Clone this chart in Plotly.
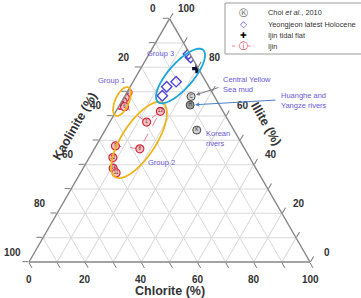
import numpy as np
import plotly.graph_objects as go

W, H = 361, 298
FONT = "Liberation Sans, Arial, sans-serif"

# ---------------- data (Illite %, Kaolinite %, Chlorite %) ----------------
ijin_labels = ["2", "7", "3", "4", "5", "6", "1", "13", "8", "9", "12", "14", "11"]
ijin_illite = [69.5, 67.5, 65.9, 64.5, 64.4, 63.8, 57.5, 61.9, 46.5, 47.7, 42.9, 38.5, 36.6]
ijin_kaolinite = [30.0, 32.0, 33.6, 35.5, 35.0, 34.1, 29.4, 22.3, 37.3, 45.4, 48.7, 50.8, 50.7]
ijin_chlorite = [0.5, 0.5, 0.5, 0.0, 0.5, 2.1, 13.1, 15.8, 16.2, 6.9, 8.4, 10.7, 12.7]

yj_illite = [85.5, 84.0, 74.1, 72.0, 68.3]
yj_kaolinite = [0.5, 0.5, 10.6, 15.0, 18.4]
yj_chlorite = [14.0, 15.5, 15.3, 13.0, 13.3]

tidal_illite = [79.5]
tidal_kaolinite = [0.5]
tidal_chlorite = [20.0]

choi_labels = ["C", "H", "K"]
choi_illite = [68.0, 64.5, 54.2]
choi_kaolinite = [8.3, 10.4, 13.2]
choi_chlorite = [23.7, 25.1, 32.6]

tick_values = list(range(0, 101, 10))
label_values = list(range(0, 101, 20))

# ---------------- geometry helpers ----------------
TRI_L, TRI_R, TRI_B = 29.0, 310.0, 262.0
TRI_W = TRI_R - TRI_L
TRI_H = TRI_W * np.sqrt(3) / 2


def px(x, y):
    return x / W, 1 - y / H


def tern_to_px(i, k, c):
    s = i + k + c
    x = TRI_L + TRI_W * (c / s + 0.5 * i / s)
    y = TRI_B - TRI_H * i / s
    return x, y


def ellipse_path(cx, cy, a, b, ang_deg):
    t = np.linspace(0, 2 * np.pi, 73)
    th = np.radians(ang_deg)
    xs = cx + a * np.cos(t) * np.cos(th) + b * np.sin(t) * np.sin(th)
    ys = cy - a * np.cos(t) * np.sin(th) + b * np.sin(t) * np.cos(th)
    pts = [px(x, y) for x, y in zip(xs, ys)]
    return "M " + " L ".join(f"{p[0]:.5f},{p[1]:.5f}" for p in pts) + " Z"


fig = go.Figure()

fig.add_trace(go.Scatterternary(
    a=ijin_illite, b=ijin_kaolinite, c=ijin_chlorite,
    mode="lines+markers+text", text=ijin_labels, textposition="middle center",
    textfont=dict(size=4.5, color="#7a1010", family=FONT),
    line=dict(color="#e8748a", width=0.9, dash="dash"),
    marker=dict(symbol="circle", size=8, color="#f6c4c8",
                line=dict(color="#d42a3a", width=1.2)),
    name="Ijin", showlegend=False,
))
fig.add_trace(go.Scatterternary(
    a=yj_illite, b=yj_kaolinite, c=yj_chlorite, mode="markers",
    marker=dict(symbol="diamond-open", size=8, color="#4f46d8", line=dict(width=1.4)),
    name="Yeongjeon latest Holocene", showlegend=False,
))
fig.add_trace(go.Scatterternary(
    a=tidal_illite, b=tidal_kaolinite, c=tidal_chlorite, mode="markers",
    marker=dict(symbol="cross", size=8, color="#111133"),
    name="Ijin tidal flat", showlegend=False,
))
fig.add_trace(go.Scatterternary(
    a=choi_illite, b=choi_kaolinite, c=choi_chlorite,
    mode="markers+text", text=choi_labels, textposition="middle center",
    textfont=dict(size=4.5, color="#222", family=FONT),
    marker=dict(symbol="circle", size=8, color=["#d6d6d6", "#9a9a9a", "#d0d0d0"],
                line=dict(color="#444", width=1)),
    name="Choi et al., 2010", showlegend=False,
))

axis_style = dict(
    tickmode="array", tickvals=tick_values, showticklabels=False,
    ticks="outside", ticklen=6, tickwidth=1, tickcolor="#7a7a7a",
    linecolor="#858585", linewidth=1.4, showline=True,
    showgrid=True, gridcolor="#d9d9d9", gridwidth=1,
    title=dict(text=""), min=0,
)

fig.update_layout(
    width=W, height=H,
    margin=dict(l=0, r=0, t=0, b=0),
    paper_bgcolor="white",
    showlegend=False,
    ternary=dict(
        sum=100,
        bgcolor="rgba(0,0,0,0)",
        domain=dict(x=[TRI_L / W, TRI_R / W],
                    y=[1 - TRI_B / H, 1 - (TRI_B - TRI_H) / H]),
        aaxis=axis_style, baxis=axis_style, caxis=axis_style,
    ),
)

shapes = []
# group ellipses
shapes.append(dict(type="path", xref="paper", yref="paper",
                   path=ellipse_path(122, 101.5, 15.5, 6.8, 66),
                   line=dict(color="#f0b41c", width=1.8)))
shapes.append(dict(type="path", xref="paper", yref="paper",
                   path=ellipse_path(139, 140, 44, 17, 57),
                   line=dict(color="#f0b41c", width=1.8)))
shapes.append(dict(type="path", xref="paper", yref="paper",
                   path=ellipse_path(180.5, 76, 34.5, 12.5, 49),
                   line=dict(color="#1aa8d8", width=1.8)))
# legend box
shapes.append(dict(type="rect", xref="paper", yref="paper",
                   x0=225 / W, x1=1.02, y0=1 - 54 / H, y1=1 - 3 / H,
                   line=dict(color="#9a9a9a", width=1), fillcolor="white", layer="below"))
for x0, x1 in [(232, 238.5), (247.5, 254)]:
    shapes.append(dict(type="line", xref="paper", yref="paper",
                       x0=x0 / W, x1=x1 / W, y0=1 - 46 / H, y1=1 - 46 / H,
                       line=dict(color="#e8748a", width=0.9, dash="dot")))
fig.update_layout(shapes=shapes)

ann = []


def text_ann(x, y, text, size=7.5, color="#6a58d6", xanchor="left", angle=0, bold=False):
    xp, yp = px(x, y)
    ann.append(dict(x=xp, y=yp, xref="paper", yref="paper", text=text, showarrow=False,
                    xanchor=xanchor, yanchor="middle", textangle=angle, align="left",
                    font=dict(size=size, color=color, family=FONT,
                              weight="bold" if bold else "normal")))


# tick labels along each edge (Kaolinite left, Chlorite bottom, Illite right)
for v in label_values:
    x, y = tern_to_px(100 - v, v, 0)
    text_ann(x - 17, y - 10, str(v), size=10, color="#333", xanchor="center", bold=True)
    x, y = tern_to_px(0, 100 - v, v)
    text_ann(x, y + 17, str(v), size=10, color="#333", xanchor="center", bold=True)
    x, y = tern_to_px(v, 0, 100 - v)
    text_ann(x + 17, y - 10, str(v), size=10, color="#333", xanchor="center", bold=True)

# axis titles
text_ann(75, 126, "Kaolinite (%)", size=12.5, color="#333", xanchor="center", angle=-60, bold=True)
text_ann(266, 124, "Illite (%)", size=12.5, color="#333", xanchor="center", angle=60, bold=True)
text_ann(170, 291, "Chlorite (%)", size=12.5, color="#333", xanchor="center", bold=True)

# group and source labels
text_ann(111, 80, "Group 1", xanchor="center")
text_ann(161, 162, "Group 2", xanchor="center")
text_ann(160, 54, "Group 3", xanchor="center")
text_ann(221, 84.5, "Central Yellow<br>Sea mud")
text_ann(279, 100.5, "Huanghe and<br>Yangze rivers")
text_ann(204, 138.5, "Korean<br>rivers")

# arrows pointing to the reference points (derived from data)
hx, hy = tern_to_px(choi_illite[0], choi_kaolinite[0], choi_chlorite[0])
ann.append(dict(x=hx / W, y=1 - hy / H, xref="paper", yref="paper", text="",
                showarrow=True, ax=220 - hx, ay=87 - hy, axref="pixel", ayref="pixel",
                arrowhead=2, arrowsize=0.8, arrowwidth=1, arrowcolor="#7a7a8a", standoff=5))
hx, hy = tern_to_px(choi_illite[1], choi_kaolinite[1], choi_chlorite[1])
ann.append(dict(x=hx / W, y=1 - hy / H, xref="paper", yref="paper", text="",
                showarrow=True, ax=277 - hx, ay=100 - hy, axref="pixel", ayref="pixel",
                arrowhead=2, arrowsize=0.8, arrowwidth=1, arrowcolor="#4a80c4", standoff=5))

# legend content
text_ann(243, 13, "Ⓚ", size=8.5, color="#555", xanchor="center")
text_ann(243, 24, "◇", size=8.5, color="#5048d8", xanchor="center")
text_ann(243, 35, "✚", size=8, color="#000", xanchor="center")
text_ann(243, 46, "ⓘ", size=8.5, color="#d42a3a", xanchor="center")
text_ann(266, 13, "Choi <i>et al.</i>, 2010", size=7.4, color="#333")
text_ann(266, 24, "Yeongjeon latest Holocene", size=7.4, color="#333")
text_ann(266, 35, "Ijin tidal flat", size=7.4, color="#333")
text_ann(266, 46, "Ijin", size=7.4, color="#333")

fig.update_layout(annotations=ann)
fig.write_html("out.html")
